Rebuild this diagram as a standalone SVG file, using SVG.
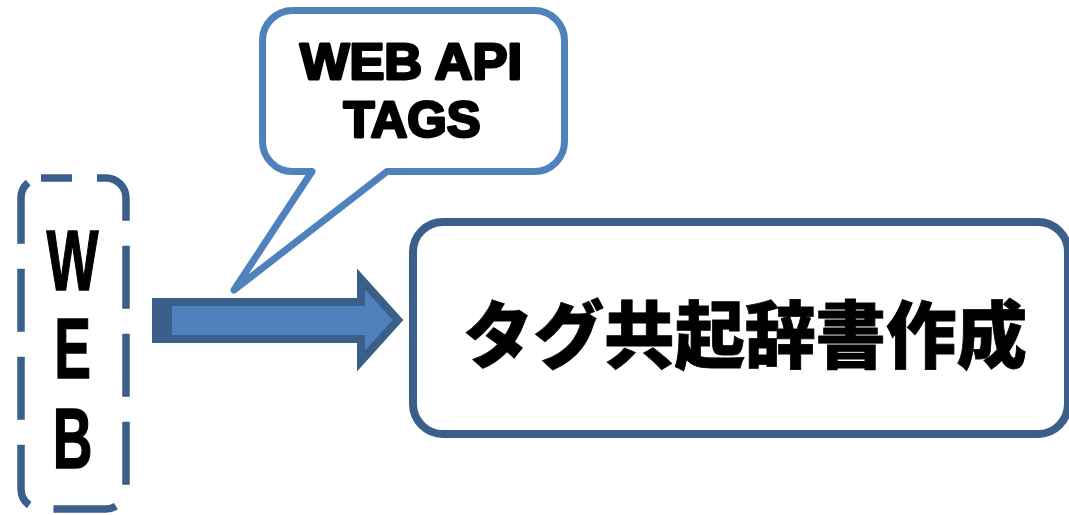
<svg xmlns="http://www.w3.org/2000/svg" width="1069" height="515" viewBox="0 0 1069 515">
<style>
.dk{stroke:#3A5F8B;fill:none}
.jp{font-family:"Noto Sans CJK JP","Noto Sans CJK SC",sans-serif;font-weight:900;fill:#000;stroke:#000;stroke-width:0.8}
.en{font-family:"Liberation Sans",Arial,sans-serif;font-weight:bold;fill:#000;stroke:#000;stroke-width:2.8;stroke-linejoin:round}
.web{font-family:"Liberation Sans",Arial,sans-serif;font-weight:bold;fill:#000;font-size:86px;stroke:#000;stroke-width:1.5}
</style>
<rect width="1069" height="515" fill="#fff"/>
<g id="web">
<rect x="21" y="178" width="105" height="331" rx="20" class="dk" stroke-width="7.5" stroke-dasharray="63 25" stroke-dashoffset="32"/>
<text class="web" text-anchor="middle" transform="translate(72.5,290) scale(0.64,1)">W</text>
<text class="web" text-anchor="middle" transform="translate(72.5,378) scale(0.64,1)">E</text>
<text class="web" text-anchor="middle" transform="translate(72.5,468) scale(0.64,1)">B</text>
</g>
<g id="bubble">
<path d="M292.5,10.5 H534.5 A30,30 0 0 1 564.5,40.5 V141.5 A30,30 0 0 1 534.5,171.5 H387 L234,290 L312,171.5 H292.5 A30,30 0 0 1 262.5,141.5 V40.5 A30,30 0 0 1 292.5,10.5 Z" fill="#fff" stroke="#4F81BD" stroke-width="7" stroke-linejoin="round"/>
<text class="en" x="411" y="79" font-size="50" text-anchor="middle" textLength="222" lengthAdjust="spacingAndGlyphs">WEB API</text>
<text class="en" x="412" y="137" font-size="50" text-anchor="middle" textLength="137" lengthAdjust="spacingAndGlyphs">TAGS</text>
</g>
<g id="connectors">
<polygon points="156,302 361,302 361,279 398,320 361,361 361,339 156,339" fill="#4F81BD" stroke="#3A5F8B" stroke-width="8" stroke-linejoin="miter"/>
<rect x="153" y="298" width="19" height="45" fill="#3A5F8B"/>
</g>
<g id="main">
<rect x="413" y="222" width="655" height="212" rx="30" fill="#fff" class="dk" stroke-width="8"/>
<text class="jp" x="745" y="362" font-size="73" text-anchor="middle" textLength="564" lengthAdjust="spacingAndGlyphs">タグ共起辞書作成</text>
</g>
</svg>
